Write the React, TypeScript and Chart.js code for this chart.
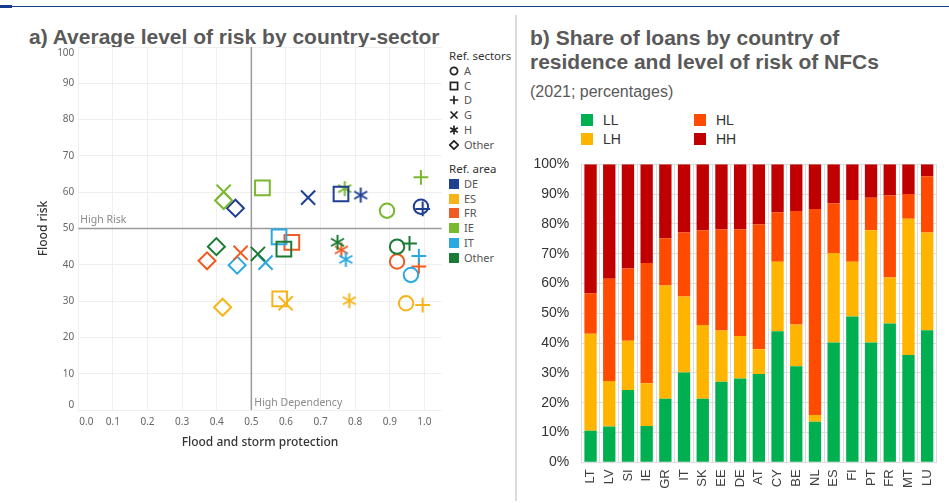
import React, { useEffect, useRef } from 'react';
import { Chart, registerables } from 'chart.js';

Chart.register(...registerables);

// ---------- Panel a) data ----------
const AREAS = ['DE', 'ES', 'FR', 'IE', 'IT', 'Other'];
const AREA_COLORS = ['#1f3f93', '#f6b419', '#f15a22', '#7ab82d', '#29a9e0', '#1b7a33'];
const SECTORS = ['A', 'C', 'D', 'G', 'H', 'Other'];

// flood and storm protection (x) / flood risk (y), in AREAS order
const protA = [0.99, 0.947, 0.921, 0.892, 0.961, 0.921];
const riskA = [56.0, 29.4, 40.9, 54.9, 37.2, 45.0];
const protC = [0.759, 0.582, 0.617, 0.532, 0.58, 0.594];
const riskC = [59.5, 30.6, 46.2, 61.2, 47.7, 44.3];
const protD = [0.995, 0.995, 0.984, 0.99, 0.984, 0.957];
const riskD = [55.4, 28.9, 39.5, 64.1, 42.4, 45.9];
const protG = [0.664, 0.599, 0.469, 0.42, 0.541, 0.519];
const riskG = [58.5, 29.4, 43.3, 60.1, 40.6, 43.0];
const protH = [0.816, 0.783, 0.76, 0.77, 0.773, 0.749];
const riskH = [59.2, 30.1, 44.1, 61.0, 41.5, 46.2];
const protO = [0.454, 0.417, 0.372, 0.42, 0.459, 0.399];
const riskO = [55.6, 28.3, 41.1, 57.7, 39.9, 45.0];

const HIGH_DEPENDENCY = 0.5;
const HIGH_RISK = 50;
const X_TICKS = [0, 0.1, 0.2, 0.3, 0.4, 0.5, 0.6, 0.7, 0.8, 0.9, 1.0];
const Y_TICKS = [0, 10, 20, 30, 40, 50, 60, 70, 80, 90, 100];

// ---------- Panel b) data ----------
const COUNTRIES = ['LT', 'LV', 'SI', 'IE', 'GR', 'IT', 'SK', 'EE', 'DE', 'AT', 'CY', 'BE', 'NL', 'ES', 'FI', 'PT', 'FR', 'MT', 'LU'];
const LL = [10.6, 12.0, 24.3, 12.2, 21.3, 30.1, 21.3, 27.0, 28.1, 29.6, 44.0, 32.2, 13.6, 40.2, 48.9, 40.2, 46.6, 36.0, 44.3];
const LH = [32.5, 15.3, 16.5, 14.3, 38.0, 25.5, 24.8, 17.2, 14.3, 8.3, 23.3, 14.0, 2.3, 30.0, 18.4, 37.7, 15.4, 45.7, 32.8];
const HL = [13.6, 34.3, 24.2, 40.4, 15.9, 21.5, 31.8, 34.0, 35.8, 41.9, 16.6, 38.1, 69.1, 16.7, 20.7, 10.9, 27.5, 8.3, 18.9];
const HH = [43.3, 38.4, 35.0, 33.1, 24.8, 22.9, 22.1, 21.8, 21.8, 20.2, 16.1, 15.7, 15.0, 13.1, 12.0, 11.2, 10.5, 10.0, 4.0];
const RISK_LABELS = ['LL', 'LH', 'HL', 'HH'];
const RISK_COLORS = ['#00b050', '#ffb400', '#ff4b00', '#c00000'];

const TAB_FONT = '"Noto Sans", "Open Sans", sans-serif';
const ARIAL = 'Arial, "Liberation Sans", sans-serif';

function zeroPad(s: any) {
  s.paddingTop = 0;
  s.paddingBottom = 0;
  s.paddingLeft = 0;
  s.paddingRight = 0;
}

function makeAsterisk(color: string, size: number, lw: number) {
  const c = document.createElement('canvas');
  const s = Math.ceil(size + lw * 2);
  c.width = s;
  c.height = s;
  const ctx = c.getContext('2d')!;
  ctx.strokeStyle = color;
  ctx.lineWidth = lw;
  const cx = s / 2, cy = s / 2, r = size / 2;
  for (const a of [90, 30, 150]) {
    const rad = (a * Math.PI) / 180;
    ctx.beginPath();
    ctx.moveTo(cx - r * Math.cos(rad), cy - r * Math.sin(rad));
    ctx.lineTo(cx + r * Math.cos(rad), cy + r * Math.sin(rad));
    ctx.stroke();
  }
  return c;
}

function ScatterPanel() {
  const ref = useRef<HTMLCanvasElement>(null);
  useEffect(() => {
    const asterisks = AREA_COLORS.map((c) => makeAsterisk(c, 15, 2));
    const sectorDefs: any[] = [
      { label: 'A', x: protA, y: riskA, style: 'circle', r: 7.2 },
      { label: 'C', x: protC, y: riskC, style: 'rect', r: 10.4 },
      { label: 'D', x: protD, y: riskD, style: 'cross', r: 7.4 },
      { label: 'G', x: protG, y: riskG, style: 'crossRot', r: 10 },
      { label: 'H', x: protH, y: riskH, style: asterisks, r: 7 },
      { label: 'Other', x: protO, y: riskO, style: 'rectRot', r: 8.5 },
    ];
    const refLines = {
      id: 'refLines',
      beforeDatasetsDraw(chart: any) {
        const { ctx, chartArea, scales } = chart;
        const xp = scales.x.getPixelForValue(HIGH_DEPENDENCY);
        const yp = scales.y.getPixelForValue(HIGH_RISK);
        ctx.save();
        ctx.strokeStyle = '#9a9a9a';
        ctx.lineWidth = 1.5;
        ctx.beginPath();
        ctx.moveTo(xp, chartArea.top);
        ctx.lineTo(xp, chartArea.bottom);
        ctx.moveTo(chartArea.left, yp);
        ctx.lineTo(chartArea.right, yp);
        ctx.stroke();
        ctx.fillStyle = '#8a8a8a';
        ctx.font = `10.5px ${TAB_FONT}`;
        ctx.textBaseline = 'middle';
        ctx.textAlign = 'left';
        ctx.fillText('High Risk', chartArea.left + 2, yp - 8);
        ctx.fillText('High Dependency', xp + 3, chartArea.bottom - 7);
        ctx.restore();
      },
      // tick labels kept inside the plot's span, as in the original
      afterDraw(chart: any) {
        const { ctx, chartArea, scales } = chart;
        ctx.save();
        ctx.fillStyle = '#666';
        ctx.font = `10px ${TAB_FONT}`;
        ctx.textAlign = 'right';
        ctx.textBaseline = 'middle';
        for (const v of Y_TICKS) {
          const p = Math.min(Math.max(scales.y.getPixelForValue(v), chartArea.top + 6), chartArea.bottom - 5);
          ctx.fillText(String(v), chartArea.left - 4, p);
        }
        ctx.textAlign = 'center';
        ctx.textBaseline = 'top';
        for (const v of X_TICKS) {
          const p = Math.max(scales.x.getPixelForValue(v), chartArea.left + 8);
          ctx.fillText(v.toFixed(1), p, chartArea.bottom + 7);
        }
        ctx.restore();
      },
    };
    const chart = new Chart(ref.current!, {
      type: 'scatter',
      data: {
        datasets: sectorDefs.map((s) => ({
          label: s.label,
          data: s.x.map((x: number, i: number) => ({ x, y: s.y[i] })),
          pointStyle: s.style,
          pointRadius: s.r,
          pointBorderColor: AREA_COLORS,
          pointBackgroundColor: 'rgba(0,0,0,0)',
          pointBorderWidth: 2,
          showLine: false,
        })),
      },
      options: {
        responsive: false,
        animation: false,
        events: [],
        layout: { autoPadding: false, padding: { top: 7, right: 3.3, left: 0, bottom: 0 } },
        plugins: { legend: { display: false }, tooltip: { enabled: false } },
        scales: {
          x: {
            type: 'linear',
            min: 0,
            max: 1.05,
            afterBuildTicks: (s: any) => {
              s.ticks = X_TICKS.map((v) => ({ value: v }));
            },
            afterFit: (s: any) => {
              s.height = 44;
              zeroPad(s);
            },
            ticks: { display: false },
            grid: { color: '#efefef', drawTicks: false },
            border: { display: false },
            title: {
              display: true,
              text: 'Flood and storm protection',
              font: { family: TAB_FONT, size: 12, weight: '500' },
              color: '#333',
            },
          },
          y: {
            type: 'linear',
            min: 0,
            max: 100,
            afterBuildTicks: (s: any) => {
              s.ticks = Y_TICKS.map((v) => ({ value: v }));
            },
            afterFit: (s: any) => {
              s.width = 46.3;
              zeroPad(s);
            },
            ticks: { display: false },
            grid: { color: '#efefef', drawTicks: false },
            border: { display: false },
            title: {
              display: true,
              text: 'Flood risk',
              font: { family: TAB_FONT, size: 12, weight: '500' },
              color: '#333',
            },
          },
        },
      },
      plugins: [refLines],
    } as any);
    return () => chart.destroy();
  }, []);
  return (
    <canvas
      ref={ref}
      width={413}
      height={414}
      style={{ position: 'absolute', left: 32, top: 40, width: 413, height: 414 }}
    />
  );
}

function BarPanel() {
  const ref = useRef<HTMLCanvasElement>(null);
  useEffect(() => {
    const series = [LL, LH, HL, HH];
    const chart = new Chart(ref.current!, {
      type: 'bar',
      data: {
        labels: COUNTRIES,
        datasets: series.map((d, i) => ({
          label: RISK_LABELS[i],
          data: d,
          backgroundColor: RISK_COLORS[i],
          borderWidth: 0,
          barPercentage: 0.66,
          categoryPercentage: 1,
        })),
      },
      options: {
        responsive: false,
        animation: false,
        events: [],
        layout: { padding: { top: 14.3, right: 12.5, left: 0, bottom: 0 } },
        plugins: { legend: { display: false }, tooltip: { enabled: false } },
        scales: {
          x: {
            stacked: true,
            afterFit: (s: any) => {
              s.height = 40.7;
              zeroPad(s);
            },
            ticks: {
              font: { family: ARIAL, size: 13 },
              color: '#404040',
              minRotation: 90,
              maxRotation: 90,
              autoSkip: false,
              padding: 7,
            },
            grid: { color: '#dcdcdc', drawTicks: false, offset: true },
            border: { color: '#dcdcdc' },
          },
          y: {
            stacked: true,
            min: 0,
            max: 100,
            afterFit: (s: any) => {
              s.width = 61.2;
              zeroPad(s);
            },
            ticks: {
              stepSize: 10,
              callback: (v: any) => v + '%',
              font: { family: ARIAL, size: 14 },
              color: '#333',
              padding: 12,
            },
            grid: { color: '#dcdcdc', drawTicks: false },
            border: { display: false },
          },
        },
      },
    } as any);
    return () => chart.destroy();
  }, []);
  return (
    <canvas
      ref={ref}
      width={429}
      height={353}
      style={{ position: 'absolute', left: 520, top: 150, width: 429, height: 353 }}
    />
  );
}

const GLYPH_STROKE = '#222';
function Glyph({ kind }: { kind: string }) {
  const p: any = { stroke: GLYPH_STROKE, strokeWidth: 1.7, fill: 'none' };
  let el: any = null;
  if (kind === 'A') el = <circle cx={5} cy={5} r={3.6} {...p} />;
  else if (kind === 'C') el = <rect x={1.4} y={1.4} width={7.2} height={7.2} {...p} />;
  else if (kind === 'D') el = <path d="M5 0.8 V9.2 M0.8 5 H9.2" {...p} />;
  else if (kind === 'G') el = <path d="M1.5 1.5 L8.5 8.5 M8.5 1.5 L1.5 8.5" {...p} />;
  else if (kind === 'H') el = <path d="M5 0.6 V9.4 M1.2 2.8 L8.8 7.2 M8.8 2.8 L1.2 7.2" {...p} />;
  else el = <path d="M5 0.8 L9.2 5 L5 9.2 L0.8 5 Z" {...p} />;
  return (
    <svg width={10} height={10} viewBox="0 0 10 10" style={{ display: 'block' }}>
      {el}
    </svg>
  );
}

function LeftLegend() {
  const rowH = 14.7;
  const secTop = 71;
  const areaTop = 184;
  const txt: any = { position: 'absolute', left: 464, fontFamily: TAB_FONT, fontSize: 11, color: '#555', lineHeight: '14px', whiteSpace: 'nowrap' };
  return (
    <>
      <div style={{ ...txt, left: 449, top: 56 - 7, color: '#333', fontSize: 11.5 }}>Ref. sectors</div>
      {SECTORS.map((s, i) => (
        <React.Fragment key={'s' + s}>
          <div style={{ position: 'absolute', left: 449, top: secTop + i * rowH - 5 }}>
            <Glyph kind={s} />
          </div>
          <div style={{ ...txt, top: secTop + i * rowH - 7 }}>{s}</div>
        </React.Fragment>
      ))}
      <div style={{ ...txt, left: 449, top: 169 - 7, color: '#333', fontSize: 11.5 }}>Ref. area</div>
      {AREAS.map((a, i) => (
        <React.Fragment key={'a' + a}>
          <div style={{ position: 'absolute', left: 449, top: areaTop + i * rowH - 5, width: 10, height: 10, background: AREA_COLORS[i] }} />
          <div style={{ ...txt, top: areaTop + i * rowH - 7 }}>{a}</div>
        </React.Fragment>
      ))}
    </>
  );
}

function RightLegend() {
  const pos = [
    [581, 120],
    [581, 138.5],
    [694, 120],
    [694, 138.5],
  ];
  return (
    <>
      {RISK_LABELS.map((l, i) => (
        <React.Fragment key={l}>
          <div style={{ position: 'absolute', left: pos[i][0], top: pos[i][1] - 6, width: 12, height: 12, background: RISK_COLORS[i] }} />
          <div style={{ position: 'absolute', left: pos[i][0] + 22, top: pos[i][1] - 9, fontFamily: ARIAL, fontSize: 14, lineHeight: '18px', color: '#333' }}>{l}</div>
        </React.Fragment>
      ))}
    </>
  );
}

export default function App() {
  const titleStyle: any = {
    position: 'absolute',
    fontFamily: ARIAL,
    fontWeight: 'bold',
    fontSize: 21,
    color: '#595959',
    whiteSpace: 'nowrap',
    lineHeight: '23.5px',
  };
  return (
    <div style={{ position: 'fixed', left: 0, top: 0, width: 949, height: 503, background: '#fff', overflow: 'hidden' }}>
      <div style={{ position: 'absolute', left: 0, top: 5.5, width: 949, height: 1.5, background: '#163c91' }} />
      <div style={{ position: 'absolute', left: 0, top: 5, width: 12, height: 3, background: '#163c91' }} />
      <div style={{ position: 'absolute', left: 515, top: 15, width: 2, height: 486, background: '#dcdcdc' }} />

      <div style={{ ...titleStyle, left: 29, top: 25 }}>a) Average level of risk by country-sector</div>
      <ScatterPanel />
      <LeftLegend />

      <div style={{ ...titleStyle, left: 530, top: 26 }}>
        b) Share of loans by country of
        <br />
        residence and level of risk of NFCs
      </div>
      <div style={{ position: 'absolute', left: 530, top: 82.5, fontFamily: ARIAL, fontSize: 16, lineHeight: '18px', color: '#595959' }}>
        (2021; percentages)
      </div>
      <RightLegend />
      <BarPanel />
    </div>
  );
}
